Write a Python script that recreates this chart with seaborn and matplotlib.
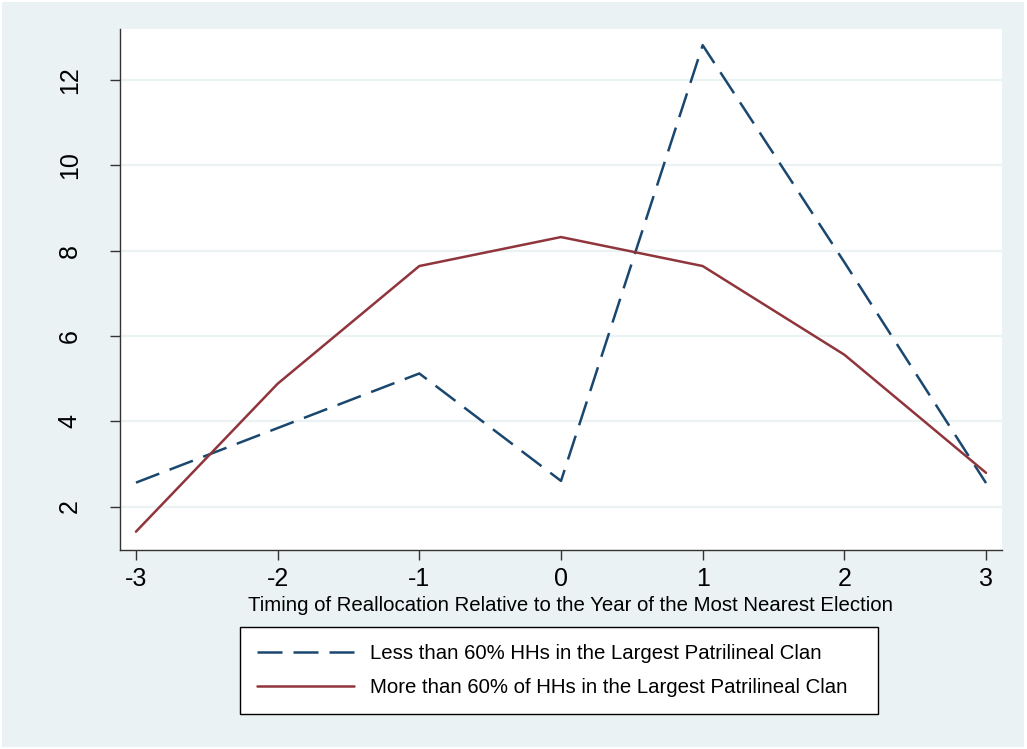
import matplotlib
matplotlib.use("Agg")
import matplotlib.pyplot as plt
from matplotlib.patches import Rectangle
import seaborn as sns
import pandas as pd

# Timing of reallocation relative to the nearest election
timing = [-3, -2, -1, 0, 1, 2, 3]
# Share of reallocations, by clan concentration
less_than_60 = [2.56, 3.84, 5.12, 2.60, 12.82, 7.73, 2.55]
more_than_60 = [1.41, 4.88, 7.64, 8.32, 7.64, 5.56, 2.79]

label_less = "Less than 60% HHs in the Largest Patrilineal Clan"
label_more = "More than 60% of HHs in the Largest Patrilineal Clan"
x_title = "Timing of Reallocation Relative to the Year of the Most Nearest Election"
y_ticks = [2, 4, 6, 8, 10, 12]
x_ticks = [-3, -2, -1, 0, 1, 2, 3]

df = pd.DataFrame({
    "timing": timing * 2,
    "value": less_than_60 + more_than_60,
    "group": [label_less] * len(timing) + [label_more] * len(timing),
})

sns.set_theme(style="white")
plt.rcParams["font.family"] = ["Liberation Sans", "DejaVu Sans"]
plt.rcParams["text.color"] = "black"
plt.rcParams["axes.labelcolor"] = "black"

bg = "#EAF2F3"
navy = "#1A476F"
maroon = "#90353B"

fig = plt.figure(figsize=(10.27, 7.49), dpi=100, facecolor="white")
# outer graph region with a thin white margin
fig.patches.append(Rectangle((2 / 1027, 2 / 749), 1 - 5 / 1027, 1 - 4 / 749,
                             transform=fig.transFigure, facecolor=bg,
                             edgecolor="none", zorder=-10))

ax = fig.add_axes([0.1168, 0.2657, 0.8589, 0.6956])
ax.set_facecolor("white")

sns.lineplot(
    data=df, x="timing", y="value", hue="group", style="group",
    palette={label_less: navy, label_more: maroon},
    dashes={label_less: (10, 4.4), label_more: ""},
    linewidth=1.8, ax=ax, legend=False, sort=False,
)

ax.set_xlim(-3.113, 3.113)
ax.set_ylim(0.98, 13.2)
ax.set_yticks(y_ticks)
ax.set_xticks(x_ticks)
ax.set_yticklabels([str(v) for v in y_ticks], rotation=90, va="center", fontsize=18)
ax.set_xticklabels([str(v) for v in x_ticks], fontsize=18)
ax.grid(axis="y", color=bg, linewidth=1.6)
ax.set_axisbelow(True)
ax.set_xlabel(x_title, fontsize=14.7, labelpad=3, x=0.511, color="black")
ax.set_ylabel("")

for side in ["top", "right"]:
    ax.spines[side].set_visible(False)
for side in ["left", "bottom"]:
    ax.spines[side].set_color("#333333")
    ax.spines[side].set_linewidth(1.0)
ax.tick_params(axis="both", direction="out", length=7.5, width=1.0, color="#333333",
               labelcolor="black", left=True, bottom=True)
ax.tick_params(axis="y", pad=20)
ax.tick_params(axis="x", pad=5)

handles = [
    plt.Line2D([], [], color=navy, linewidth=1.8, dashes=(10, 4.4)),
    plt.Line2D([], [], color=maroon, linewidth=1.8),
]
leg = fig.legend(
    handles, [label_less, label_more], loc="center", mode="expand",
    bbox_to_anchor=(240 / 1027, 1 - 713 / 749, 638 / 1027, 85 / 749),
    fontsize=14.7, frameon=True,
    fancybox=False, edgecolor="black", facecolor="white", framealpha=1,
    handlelength=4.75, handletextpad=0.75, labelspacing=0.7,
    borderpad=0.85, borderaxespad=0,
)
leg.get_frame().set_linewidth(1.0)
for t in leg.get_texts():
    t.set_color("black")

fig.savefig("out.png", dpi=100, facecolor="white")
